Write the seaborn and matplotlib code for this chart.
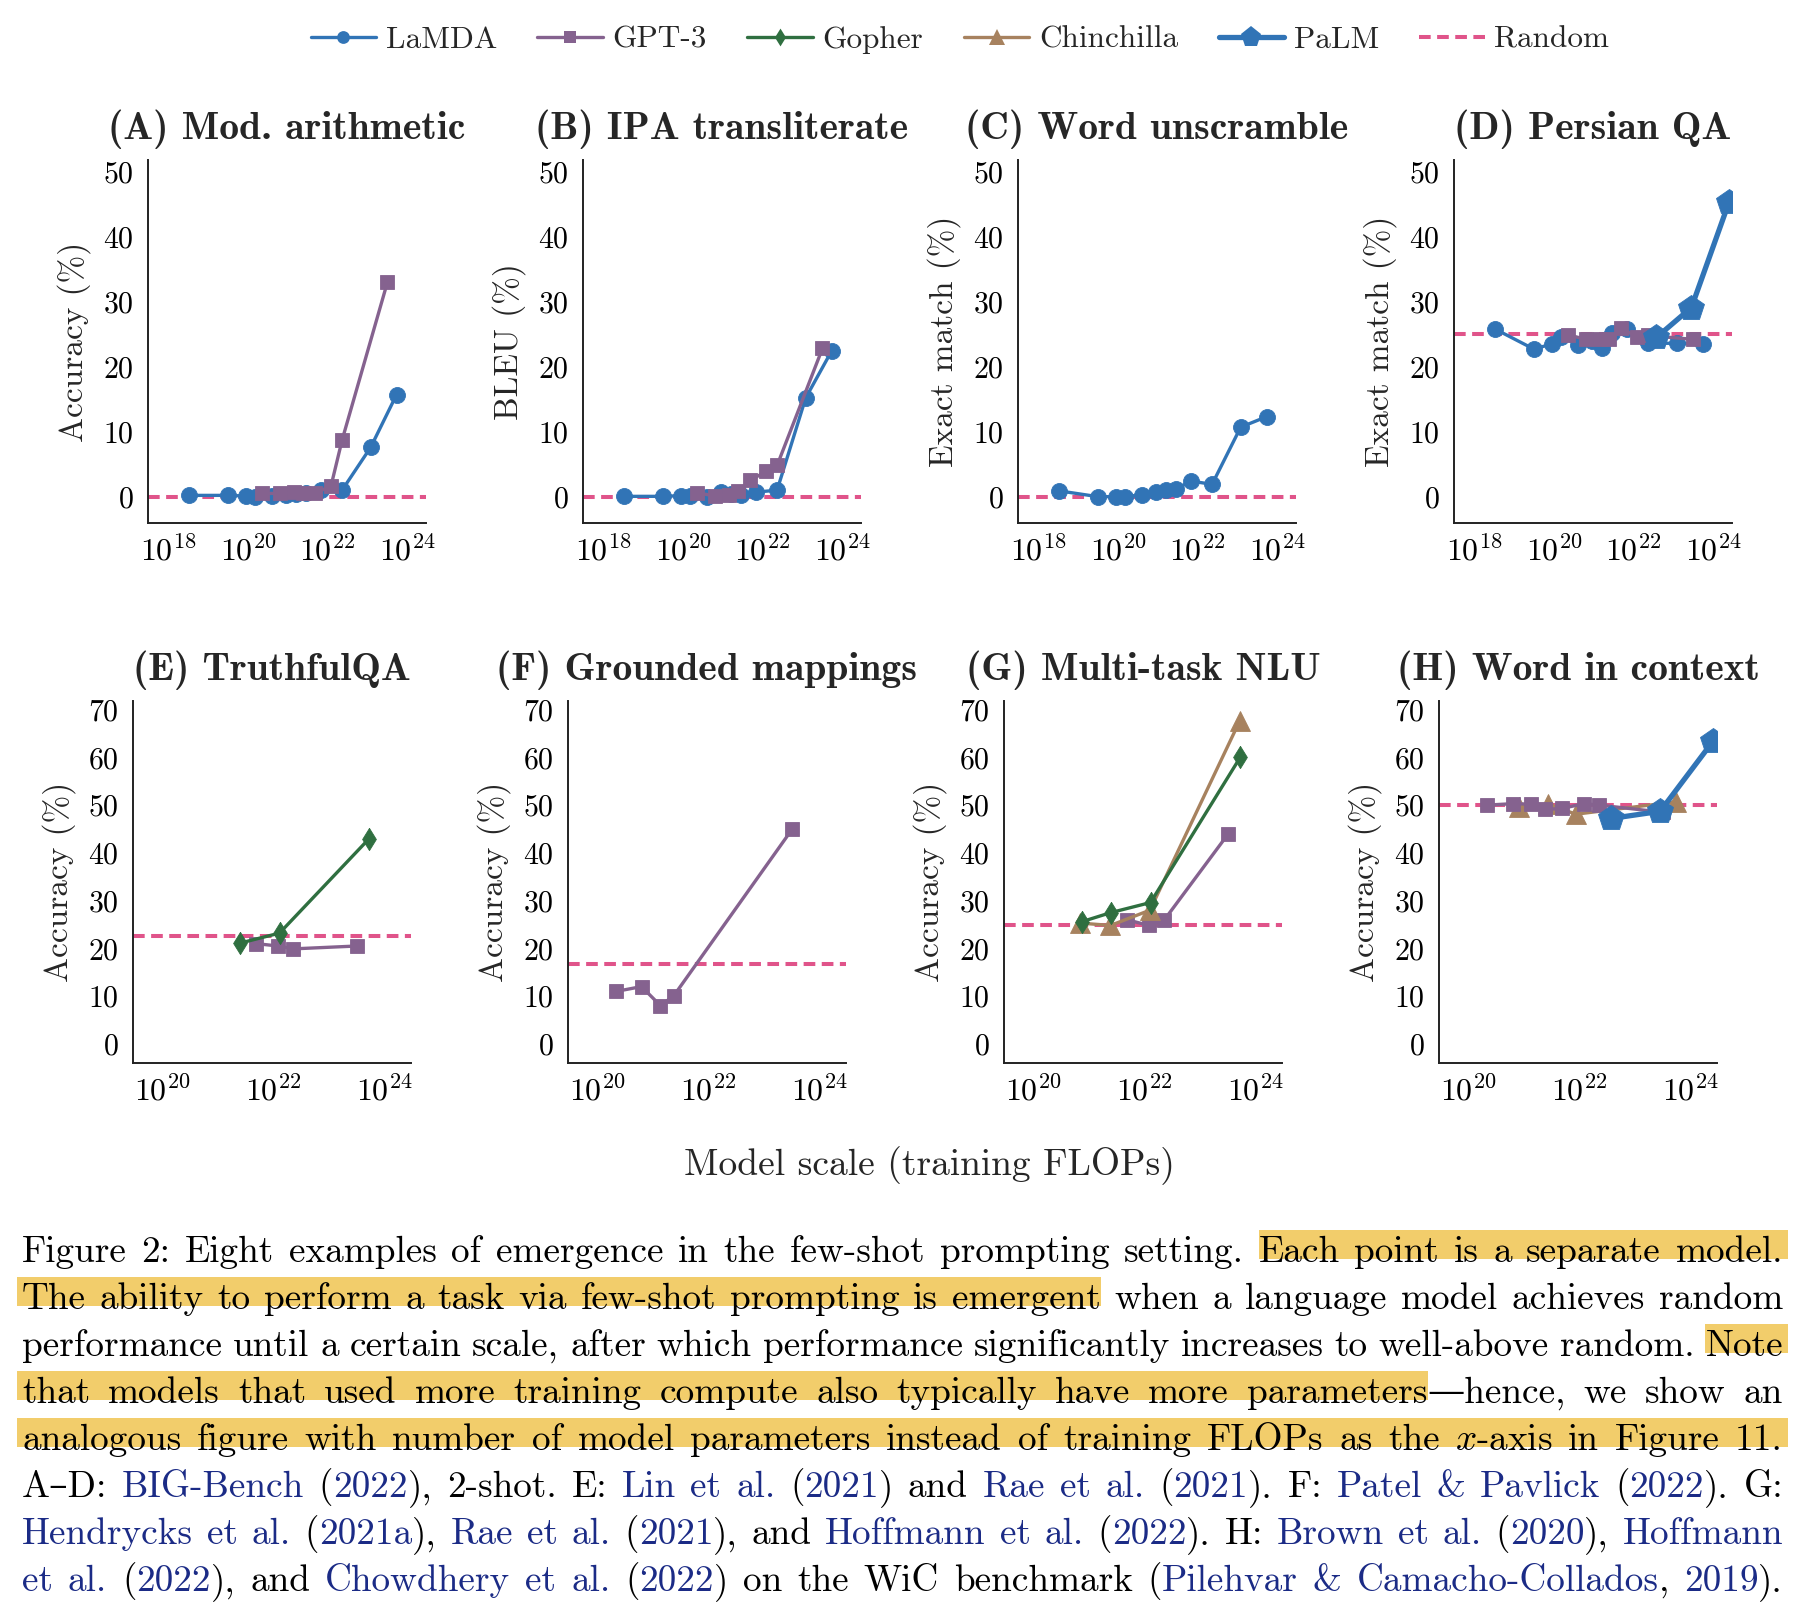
import numpy as np
import matplotlib
matplotlib.use("Agg")
import matplotlib.pyplot as plt
import matplotlib.transforms as mtransforms
from matplotlib.lines import Line2D
from matplotlib.patches import Rectangle
from matplotlib.ticker import FixedLocator, LogFormatterSciNotation, NullLocator
import seaborn as sns

# ---------------- data (x = log10 of training FLOPs, y = %) ----------------
lamda_exp = [18.51, 19.49, 19.94, 20.16, 20.61, 20.94, 21.21, 21.46, 21.83, 22.36, 23.08, 23.73]
gpt3_exp = [20.35, 20.80, 21.14, 21.38, 21.69, 22.08, 22.36, 23.50]
gopher_exp = [20.88, 21.40, 22.11, 23.72]
chinchilla_exp = [20.85, 21.39, 22.10, 23.71]
chinchilla_wic_exp = [20.91, 21.43, 21.94, 23.74]
palm_exp = [22.57, 23.45, 24.40]

arith_lamda = [0.2, 0.2, 0.1, 0.0, 0.1, 0.2, 0.4, 0.6, 1.1, 1.0, 7.6, 15.7]
arith_gpt3 = [0.5, 0.5, 0.7, 0.6, 0.6, 1.6, 8.7, 33.0]
ipa_lamda = [0.05, 0.05, 0.15, 0.15, 0.0, 0.7, 0.4, 0.3, 0.7, 1.0, 15.2, 22.4]
ipa_gpt3 = [0.6, 0.1, 0.3, 0.9, 2.5, 3.9, 4.8, 22.8]
unscramble_lamda = [0.9, 0.0, 0.0, 0.0, 0.3, 0.7, 1.0, 1.2, 2.4, 1.9, 10.7, 12.3]
persian_lamda = [25.8, 22.7, 23.5, 24.6, 23.4, 24.0, 22.8, 25.2, 25.8, 23.6, 23.6, 23.5]
persian_gpt3 = [24.9, 24.2, 24.2, 24.3, 25.9, 24.6, 24.8, 24.2]
persian_palm = [24.5, 29.1, 45.4]
truthful_gopher = [21.1, 23.2, 43.0]
truthful_gpt3 = [21.0, 20.5, 19.9, 20.5]
grounded_gpt3 = [11.0, 12.0, 8.0, 10.1, 44.9]
mmlu_gopher = [25.6, 27.5, 29.6, 60.0]
mmlu_chinchilla = [25.3, 24.8, 28.0, 67.6]
mmlu_gpt3 = [26.0, 24.8, 26.0, 43.9]
wic_gpt3 = [50.0, 50.3, 50.2, 49.1, 49.3, 50.3, 50.0, 48.5]
wic_chinchilla = [49.7, 50.2, 48.1, 50.7]
wic_palm = [47.2, 48.7, 63.4]

random_baseline = [0, 0, 0, 25, 22.6, 16.7, 25, 50]
titles = ["(A) Mod. arithmetic", "(B) IPA transliterate", "(C) Word unscramble", "(D) Persian QA",
          "(E) TruthfulQA", "(F) Grounded mappings", "(G) Multi-task NLU", "(H) Word in context"]
ylabels = ["Accuracy (%)", "BLEU (%)", "Exact match (%)", "Exact match (%)",
           "Accuracy (%)", "Accuracy (%)", "Accuracy (%)", "Accuracy (%)"]
xticks_top = [18, 20, 22, 24]
xticks_bottom = [20, 22, 24]
yticks_top = [0, 10, 20, 30, 40, 50]
yticks_bottom = [0, 10, 20, 30, 40, 50, 60, 70]
legend_names = ["LaMDA", "GPT-3", "Gopher", "Chinchilla", "PaLM", "Random"]

panels = [
    [("LaMDA", lamda_exp, arith_lamda), ("GPT-3", gpt3_exp, arith_gpt3)],
    [("LaMDA", lamda_exp, ipa_lamda), ("GPT-3", gpt3_exp, ipa_gpt3)],
    [("LaMDA", lamda_exp, unscramble_lamda)],
    [("LaMDA", lamda_exp, persian_lamda), ("GPT-3", gpt3_exp, persian_gpt3), ("PaLM", palm_exp, persian_palm)],
    [("GPT-3", gpt3_exp[4:], truthful_gpt3), ("Gopher", gopher_exp[1:], truthful_gopher)],
    [("GPT-3", gpt3_exp[:4] + gpt3_exp[-1:], grounded_gpt3)],
    [("GPT-3", gpt3_exp[4:], mmlu_gpt3), ("Chinchilla", chinchilla_exp, mmlu_chinchilla),
     ("Gopher", gopher_exp, mmlu_gopher)],
    [("Chinchilla", chinchilla_wic_exp, wic_chinchilla), ("GPT-3", gpt3_exp, wic_gpt3), ("PaLM", palm_exp, wic_palm)],
]

caption_lines = [
    "Figure 2: Eight examples of emergence in the few-shot prompting setting. [Each point is a separate model.]",
    "[The ability to perform a task via few-shot prompting is emergent] when a language model achieves random",
    "performance until a certain scale, after which performance significantly increases to well-above random. [Note]",
    "[that models that used more training compute also typically have more parameters]\u2014hence, we show an",
    "[analogous figure with number of model parameters instead of training FLOPs as the $x$-axis in Figure 11.]",
    "A\u2013D: {BIG-Bench} ({2022}), 2-shot. E: {Lin et al.} ({2021}) and {Rae et al.} ({2021}). F: {Patel & Pavlick} ({2022}). G:",
    "{Hendrycks et al.} ({2021a}), {Rae et al.} ({2021}), and {Hoffmann et al.} ({2022}). H: {Brown et al.} ({2020}), {Hoffmann}",
    "{et al.} ({2022}), and {Chowdhery et al.} ({2022}) on the WiC benchmark ({Pilehvar & Camacho-Collados}, {2019}).",
]

# ---------------- styling ----------------
sns.set_theme(style="white")
plt.rcParams["font.family"] = ["cmr10", "DejaVu Serif"]
plt.rcParams["mathtext.fontset"] = "cm"
plt.rcParams["axes.formatter.use_mathtext"] = True

diamond = [(0, 1), (0.62, 0), (0, -1), (-0.62, 0), (0, 1)]
STYLE = {
    "LaMDA": dict(color="#3174B6", marker="o", markersize=11.5, linewidth=2.4),
    "GPT-3": dict(color="#85628F", marker="s", markersize=10.5, linewidth=2.4),
    "Gopher": dict(color="#2F6F40", marker=diamond, markersize=16, linewidth=2.4),
    "Chinchilla": dict(color="#A7825F", marker="^", markersize=14, linewidth=2.4),
    "PaLM": dict(color="#3174B6", marker="p", markersize=19, linewidth=3.8),
}
RANDOM_COLOR = "#E0548A"
HL_COLOR = "#F2CD6B"
CITE_COLOR = "#1B2B86"

W, H = 1808, 1602
fig = plt.figure(figsize=(W / 100, H / 100), dpi=100)

lefts_top = [148, 583, 1018, 1454]
lefts_bot = [133, 568, 1004, 1439]
for i, series in enumerate(panels):
    top = i < 4
    left = lefts_top[i] if top else lefts_bot[i - 4]
    y0, y1 = (160, 523) if top else (701, 1063)
    ax = fig.add_axes([left / W, 1 - y1 / H, 278 / W, (y1 - y0) / H])

    ax.axhline(random_baseline[i], color=RANDOM_COLOR, linewidth=2.9, dashes=(2.9, 1.6), zorder=1)
    for name, xs, ys in series:
        st = STYLE[name]
        sns.lineplot(x=10 ** np.array(xs), y=ys, ax=ax, sort=False, errorbar=None, legend=False,
                     color=st["color"], marker=st["marker"], markersize=st["markersize"],
                     linewidth=st["linewidth"], markeredgewidth=0.6, markeredgecolor=st["color"], zorder=3)

    ax.set_xscale("log")
    xt = xticks_top if top else xticks_bottom
    ax.set_xlim(10 ** (17.48 if top else 19.48), 10 ** 24.47)
    ax.xaxis.set_major_locator(FixedLocator([10.0 ** e for e in xt]))
    ax.xaxis.set_major_formatter(LogFormatterSciNotation())
    ax.xaxis.set_minor_locator(NullLocator())
    ax.set_ylim((-4.05, 51.8) if top else (-4.0, 71.8))
    ax.set_yticks(yticks_top if top else yticks_bottom)

    for s in ["top", "right"]:
        ax.spines[s].set_visible(False)
    for s in ["left", "bottom"]:
        ax.spines[s].set_color("#222222")
        ax.spines[s].set_linewidth(1.4)
    ax.tick_params(axis="both", direction="in", length=7, width=0.9, color="#b5b5b5", labelcolor="black")
    ax.tick_params(axis="y", pad=10, labelsize=21.5)
    ax.tick_params(axis="x", pad=8, labelsize=23)
    ax.set_xlabel("")
    ax.set_ylabel(ylabels[i], fontsize=24, labelpad=9)
    ax.set_title(titles[i], fontsize=28.5, fontfamily="cmb10", pad=15)

# legend
handles = []
for name in legend_names[:-1]:
    st = STYLE[name]
    handles.append(Line2D([], [], color=st["color"], marker=st["marker"], linewidth=st["linewidth"],
                          markersize=st["markersize"] * 0.8, markeredgewidth=0))
handles.append(Line2D([], [], color=RANDOM_COLOR, linewidth=2.9, dashes=(2.9, 1.6)))
fig.legend(handles, legend_names, loc="center", bbox_to_anchor=(960 / W, 1 - 40 / H), ncol=6,
           frameon=False, fontsize=22.5, handlelength=2.1, handletextpad=0.3, columnspacing=1.3)

fig.text(929 / W, 1 - 1166 / H, "Model scale (training FLOPs)", ha="center", va="center", fontsize=27)

# ---------------- caption (justified, with highlights and citation colours) ----------------
renderer = fig.canvas.get_renderer()
ident = mtransforms.IdentityTransform()
CAP_LEFT, CAP_RIGHT = 22, 1783
CAP_BASE0, CAP_STEP = 1262, 47.0
cap_kw = dict(fontsize=26.8, family=["cmr10", "DejaVu Serif"])


def parse(line):
    chars, style = [], "n"
    for ch in line:
        if ch in "[{":
            style = "h" if ch == "[" else "c"
            continue
        if ch in "]}":
            style = "n"
            continue
        chars.append((ch, style))
    words, cur = [], []
    for ch, st in chars:
        if ch == " ":
            if cur:
                words.append(cur)
                cur = []
        else:
            cur.append((ch, st))
    if cur:
        words.append(cur)
    out = []
    for w in words:
        frags = []
        for ch, st in w:
            if frags and frags[-1][1] == st:
                frags[-1][0] += ch
            else:
                frags.append([ch, st])
        out.append(frags)
    return out


def measure(s):
    t = fig.text(0, 0, s, transform=ident, **cap_kw)
    w = t.get_window_extent(renderer).width
    t.remove()
    return w


for k, line in enumerate(caption_lines):
    words = parse(line)
    widths = [[measure(f[0]) for f in w] for w in words]
    total = sum(sum(ws) for ws in widths)
    gap = (CAP_RIGHT - CAP_LEFT - total) / (len(words) - 1)
    ybase = H - (CAP_BASE0 + k * CAP_STEP)
    x = CAP_LEFT
    spans = []
    for i, (w, ws) in enumerate(zip(words, widths)):
        for (txt, st), fw in zip(w, ws):
            fig.text(x, ybase, txt, transform=ident, ha="left", va="baseline",
                     color=CITE_COLOR if st == "c" else "black", zorder=3, **cap_kw)
            if st == "h":
                spans.append([x, x + fw])
            x += fw
        if i < len(words) - 1:
            if w[-1][1] == "h" and words[i + 1][0][1] == "h":
                spans.append([x, x + gap])
            x += gap
    for sx0, sx1 in spans:
        if sx0 <= CAP_LEFT + 0.5:
            sx0 -= 5
        if sx1 >= CAP_RIGHT - 0.5:
            sx1 += 4
        fig.add_artist(Rectangle((sx0, ybase + 3), sx1 - sx0 + 0.6, 29, transform=ident,
                                 facecolor=HL_COLOR, edgecolor="none", zorder=1))

fig.savefig("out.png", dpi=100)
